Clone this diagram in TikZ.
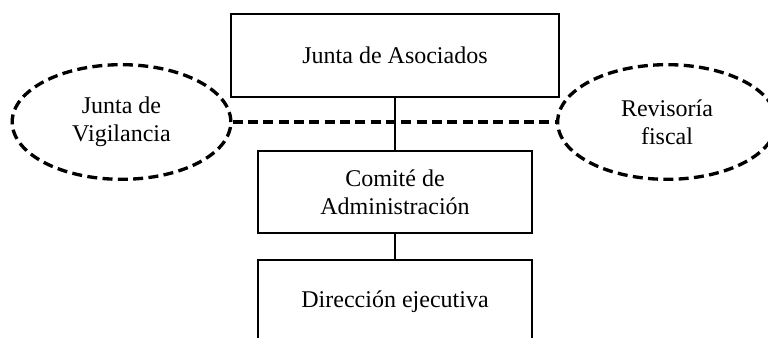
\documentclass[tikz,border=0pt]{standalone}
\usepackage{fontspec}
\setmainfont{Liberation Serif}
\usepackage{tikz}
\usetikzlibrary{shapes.geometric, positioning}

\begin{document}
\begin{tikzpicture}[
        x=0.75pt, y=-0.75pt,
        unit/.style={
          rectangle,
          draw,
          line width=1.5pt,
          minimum height=62pt,
          align=center,
          font=\fontsize{18}{21}\selectfont
        },
        control/.style={
          ellipse,
          draw,
          line width=2.5pt,
          dash pattern=on 7.5pt off 4pt,
          minimum width=164pt,
          minimum height=86pt,
          align=center,
          font=\fontsize{18}{21}\selectfont
        },
        link/.style={
          line width=1.5pt
        },
        audit/.style={
          line width=2.5pt,
          dash pattern=on 7.5pt off 4pt
        }
      ]

      \useasboundingbox (0,0) rectangle (768,338);
      \clip (0,0) rectangle (768,338);

      % Entities
      \node[unit, minimum width=246pt] (asoc) at (395,55.5) {Junta de Asociados};
      \node[unit, minimum width=205.5pt, minimum height=61.5pt] (comite) at (395,192) {Comité de\\Administración};
      \node[unit, minimum width=205.5pt] (direc) at (395,301.5) {Dirección ejecutiva};

      \node[control] (vigil) at (121.5,122) {Junta de\\Vigilancia};
      \node[control] (revis) at (667,122) {Revisoría\\fiscal};

      % Control line
      \draw[audit] (vigil.east) -- (revis.west);

      % Hierarchy
      \draw[link] (asoc.south) -- (comite.north);
      \draw[link] (comite.south) -- (direc.north);

    \end{tikzpicture}
\end{document}
